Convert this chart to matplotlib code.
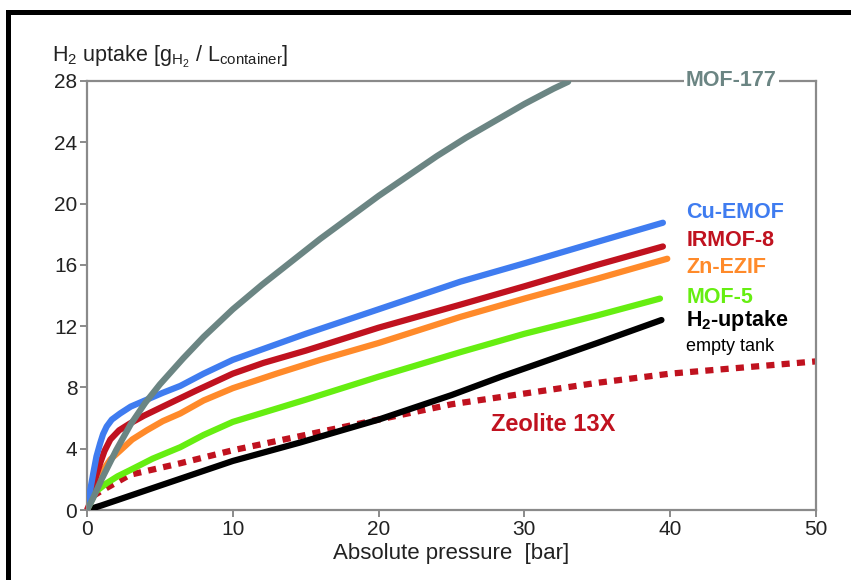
import matplotlib
matplotlib.use("Agg")
import matplotlib.pyplot as plt
from matplotlib.lines import Line2D

plt.rcParams['font.family'] = ['Liberation Sans', 'DejaVu Sans']
plt.rcParams['mathtext.default'] = 'regular'

# data (pressure in bar, uptake in g/L)
mof177_x = [0, 0.43, 1, 2, 3, 4, 5, 6.6, 8, 10, 12, 14, 16, 18, 20, 22, 24, 26, 28, 30, 32, 33.0]
mof177_y = [0, 0.8, 2.0, 3.9, 5.6, 7.0, 8.2, 9.9, 11.3, 13.1, 14.7, 16.2, 17.7, 19.1, 20.5, 21.8, 23.1, 24.3, 25.4, 26.5, 27.5, 27.95]

cu_x = [0, 0.2, 0.43, 0.65, 0.9, 1.1, 1.35, 1.7, 2.27, 3.0, 4.1, 5.2, 6.4, 8, 10, 15, 20, 25.6, 30, 35, 39.5]
cu_y = [0, 1.2, 2.4, 3.5, 4.35, 4.95, 5.45, 5.9, 6.3, 6.75, 7.2, 7.65, 8.1, 8.9, 9.8, 11.5, 13.1, 14.9, 16.1, 17.5, 18.75]

irmof8_x = [0, 0.3, 0.65, 0.9, 1.2, 1.6, 2.2, 2.95, 3.9, 5.2, 7.5, 10, 12.1, 15, 20, 25.6, 30, 35, 39.5]
irmof8_y = [0, 1.1, 2.3, 3.05, 3.85, 4.6, 5.2, 5.65, 6.15, 6.75, 7.8, 8.9, 9.6, 10.4, 11.9, 13.4, 14.6, 16.0, 17.2]

znezif_x = [0, 0.5, 1.1, 1.6, 2.3, 3.1, 4.1, 5.2, 6.4, 8, 10, 13, 16, 20, 25.6, 30, 35, 39.8]
znezif_y = [0, 1.3, 2.6, 3.3, 3.9, 4.6, 5.2, 5.8, 6.3, 7.15, 7.95, 8.9, 9.8, 10.9, 12.6, 13.8, 15.1, 16.4]

mof5_x = [0, 0.6, 1.35, 2.1, 2.95, 4.5, 6.4, 8, 10, 15, 20, 25.6, 30, 35, 39.3]
mof5_y = [0, 1.2, 1.75, 2.2, 2.6, 3.35, 4.1, 4.9, 5.75, 7.2, 8.7, 10.3, 11.5, 12.7, 13.8]

tank_x = [0, 1, 4.1, 10, 14.6, 20, 25, 28.4, 35, 39.4]
tank_y = [0, 0.3, 1.3, 3.2, 4.4, 5.9, 7.5, 8.7, 10.9, 12.4]

zeo_x = [0, 0.4, 0.9, 2.95, 6.4, 10, 15, 20, 25, 30, 35, 40, 45, 50]
zeo_y = [0, 0.9, 1.2, 2.3, 3.05, 3.9, 4.9, 5.9, 6.9, 7.6, 8.3, 8.9, 9.3, 9.7]

x_ticks = [0, 10, 20, 30, 40, 50]
y_ticks = [0, 4, 8, 12, 16, 20, 24, 28]

gray = '#6b8583'
blue = '#3f7cf0'
red = '#c0121f'
orange = '#ff8a2a'
green = '#66ee11'

fig = plt.figure(figsize=(8.51, 5.80), dpi=100)
ax = fig.add_axes([87/851, 1 - 510/580, (816 - 87)/851, (510 - 81)/580])

lw = 4.5
ax.plot(zeo_x, zeo_y, color=red, lw=lw, linestyle=(0, (1.3, 1.15)),
        dash_capstyle='butt', clip_on=False, zorder=2)
ax.plot(tank_x, tank_y, color='black', lw=lw, solid_capstyle='round', zorder=3)
ax.plot(mof5_x, mof5_y, color=green, lw=lw, solid_capstyle='round', zorder=3)
ax.plot(znezif_x, znezif_y, color=orange, lw=lw, solid_capstyle='round', zorder=3)
ax.plot(irmof8_x, irmof8_y, color=red, lw=lw, solid_capstyle='round', zorder=3)
ax.plot(cu_x, cu_y, color=blue, lw=lw, solid_capstyle='round', zorder=3)
ax.plot(mof177_x, mof177_y, color=gray, lw=lw, solid_capstyle='round', zorder=4)

ax.set_xlim(0, 50)
ax.set_ylim(0, 28)
ax.set_xticks(x_ticks)
ax.set_yticks(y_ticks)
for s in ax.spines.values():
    s.set_color('#8a8a8a')
    s.set_linewidth(1.6)
ax.tick_params(direction='out', length=5, width=1.4, color='#8a8a8a',
               labelsize=15, labelcolor='#222222', pad=2)

ax.set_xlabel('Absolute pressure  [bar]', fontsize=16, color='#222222', labelpad=3)
fig.text(52/851, 1 - 57/580,
         'H$_2$ uptake [g$_{H_2}$ / L$_{container}$]',
         fontsize=15.5, color='#222222', ha='left', va='center')

# series labels
lab_kw = dict(fontsize=15.5, fontweight='bold', ha='left', va='center')
ax.text(41.1, 19.4, 'Cu-EMOF', color=blue, **lab_kw)
ax.text(41.1, 17.6, 'IRMOF-8', color=red, **lab_kw)
ax.text(41.1, 15.8, 'Zn-EZIF', color=orange, **lab_kw)
ax.text(41.1, 13.9, 'MOF-5', color=green, **lab_kw)
ax.text(41.1, 12.4, 'H$_2$-uptake', color='black', **lab_kw)
ax.text(41.1, 10.7, 'empty tank', color='black', fontsize=13, ha='left', va='center')
ax.text(27.7, 5.55, 'Zeolite 13X', color=red, fontsize=17, fontweight='bold',
        ha='left', va='center')
ax.text(44.2, 28, 'MOF-177', color=gray, fontsize=15.5, fontweight='bold',
        ha='center', va='center', zorder=10, clip_on=False,
        bbox=dict(facecolor='white', edgecolor='none', pad=1.5))

# black frame of the original figure
fig.add_artist(Line2D([8/851, 8/851], [0, 1 - 12/580], color='black', lw=3.6,
                      transform=fig.transFigure, solid_capstyle='projecting'))
fig.add_artist(Line2D([8/851, 1], [1 - 12/580, 1 - 12/580], color='black', lw=3.6,
                      transform=fig.transFigure, solid_capstyle='projecting'))

fig.savefig('out.png', dpi=100)
